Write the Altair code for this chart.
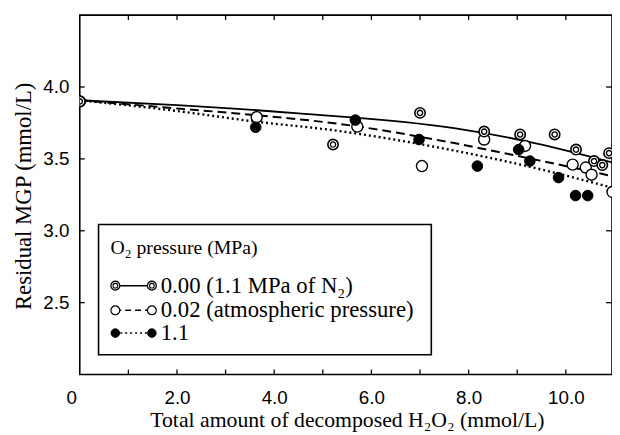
import altair as alt
import pandas as pd

# ---------------- data ----------------
series = ["0.00 (1.1 MPa of N\u2082)", "0.02 (atmospheric pressure)", "1.1"]

# measured points
x_n2 = [0.0, 5.21, 7.00, 8.32, 9.06, 9.77, 10.21, 10.58, 10.75, 10.89]
y_n2 = [3.90, 3.60, 3.82, 3.69, 3.67, 3.67, 3.565, 3.485, 3.457, 3.54]
x_atm = [0.0, 3.64, 5.71, 7.04, 8.32, 9.16, 10.14, 10.41, 10.53, 10.96]
y_atm = [3.90, 3.79, 3.725, 3.45, 3.635, 3.59, 3.46, 3.44, 3.39, 3.27]
x_o2 = [0.0, 3.62, 5.67, 6.98, 8.18, 9.03, 9.26, 9.85, 10.20, 10.45]
y_o2 = [3.90, 3.72, 3.77, 3.635, 3.45, 3.565, 3.485, 3.37, 3.245, 3.245]

# fitted curves
cx_n2 = [0.0, 2.0, 4.5, 7.7, 9.2, 10.96]
cy_n2 = [3.908, 3.874, 3.817, 3.714, 3.622, 3.475]
cx_atm = [0.0, 2.0, 3.6, 5.3, 7.7, 9.2, 10.96]
cy_atm = [3.908, 3.851, 3.805, 3.745, 3.61, 3.507, 3.38]
cx_o2 = [0.0, 2.0, 3.6, 5.2, 7.7, 9.2, 10.96]
cy_o2 = [3.908, 3.833, 3.76, 3.70, 3.558, 3.45, 3.30]

x_label_values = [0, 2, 4, 6, 8, 10]
x_tick_values = [1, 2, 3, 4, 5, 6, 7, 8, 9, 10]
y_tick_values = [2.5, 3.0, 3.5, 4.0]
y_right_ticks = [2.5, 3.0, 4.0]

legend_title = "O\u2082 pressure (MPa)"
x_title = "Total amount of decomposed H\u2082O\u2082 (mmol/L)"
y_title = "Residual MGP (mmol/L)"

# ---------------- layout ----------------
W, H = 539, 364
SERIF = "Liberation Serif"
SANS = "Liberation Sans"

xs = alt.Scale(domain=[0, 10.95], nice=False, zero=False)
ys = alt.Scale(domain=[2.0, 4.5], nice=False, zero=False)

def pts(xv, yv):
    return pd.DataFrame({"x": xv, "y": yv})

xenc = alt.X("x:Q", scale=xs, axis=alt.Axis(
    values=x_label_values, labelExpr="datum.value == 0 ? '0' : format(datum.value, '.1f')",
    ticks=False, domain=False, grid=False, labelFont=SANS, labelFontSize=19, labelColor="black",
    labelPadding=14, labelOffset={"condition": {"test": "datum.value == 0", "value": -14}, "value": 0},
    title=x_title, titleFont=SERIF, titleFontSize=22, titleFontWeight="normal", titleColor="black",
    titleX=W / 2 + 1, titleY=46, titleBaseline="middle", titleAlign="center"))
yenc = alt.Y("y:Q", scale=ys, axis=alt.Axis(
    values=y_tick_values, format=".1f", ticks=False, domain=False, grid=False,
    labelFont=SANS, labelFontSize=19, labelColor="black", labelPadding=11,
    title=y_title, titleFont=SERIF, titleFontSize=23, titleFontWeight="normal", titleColor="black",
    titleX=-57, titleY=H / 2 + 1, titleBaseline="middle", titleAlign="center", titleAngle=-90))

xq = alt.X("x:Q", scale=xs)
yq = alt.Y("y:Q", scale=ys)

line_n2 = alt.Chart(pts(cx_n2, cy_n2)).mark_line(color="black", strokeWidth=1.8, interpolate="monotone", clip=True).encode(x=xenc, y=yenc)
line_atm = alt.Chart(pts(cx_atm, cy_atm)).mark_line(color="black", strokeWidth=2, strokeDash=[9, 5], interpolate="monotone", clip=True).encode(x=xq, y=yq)
line_o2 = alt.Chart(pts(cx_o2, cy_o2)).mark_line(color="black", strokeWidth=2.4, strokeDash=[2, 3], interpolate="monotone", clip=True).encode(x=xq, y=yq)

open_pts = alt.Chart(pts(x_atm, y_atm)).mark_point(shape="circle", filled=True, fill="white", stroke="black", strokeWidth=1.4, size=125, opacity=1, clip=True).encode(x=xq, y=yq)
fill_pts = alt.Chart(pts(x_o2, y_o2)).mark_point(shape="circle", filled=True, fill="black", stroke="black", strokeWidth=1, size=115, opacity=1, clip=True).encode(x=xq, y=yq)
dbl_outer = alt.Chart(pts(x_n2, y_n2)).mark_point(shape="circle", filled=True, fill="white", stroke="black", strokeWidth=1.6, size=110, opacity=1, clip=True).encode(x=xq, y=yq)
dbl_inner = alt.Chart(pts(x_n2, y_n2)).mark_point(shape="circle", filled=False, stroke="black", strokeWidth=1.4, size=28, opacity=1, clip=True).encode(x=xq, y=yq)

# inward ticks
tx = pd.DataFrame({"x": x_tick_values})
ty = pd.DataFrame({"y": y_tick_values})
tyr = pd.DataFrame({"y": y_right_ticks})
tick_bottom = alt.Chart(tx).mark_rule(color="black", strokeWidth=1.3).encode(x=xq, y=alt.value(H), y2=alt.value(H - 5))
tick_top = alt.Chart(tx).mark_rule(color="black", strokeWidth=1.3).encode(x=xq, y=alt.value(0), y2=alt.value(5))
tick_left = alt.Chart(ty).mark_rule(color="black", strokeWidth=1.3).encode(y=yq, x=alt.value(0), x2=alt.value(5))
tick_right = alt.Chart(tyr).mark_rule(color="black", strokeWidth=1.3).encode(y=yq, x=alt.value(W - 6), x2=alt.value(W))

# legend box
one = pd.DataFrame({"k": [0]})
lx0, lx1, ly0, ly1 = 19, 356, 212, 344
leg_box = alt.Chart(one).mark_rect(fill="white", stroke="black", strokeWidth=1.6).encode(
    x=alt.value(lx0), x2=alt.value(lx1), y=alt.value(ly0), y2=alt.value(ly1))
leg_title = alt.Chart(one).mark_text(align="left", baseline="middle", font=SERIF, fontSize=20, color="black").encode(
    x=alt.value(31), y=alt.value(236), text=alt.value(legend_title))

rows_y = [274, 299, 322]
sx0, sx1, tx0 = 36, 73, 82
leg_layers = []
dashes = [None, [6, 4], [2, 3]]
for i, (ry, lab) in enumerate(zip(rows_y, series)):
    kw = dict(color="black", strokeWidth=1.5)
    if dashes[i]:
        kw["strokeDash"] = dashes[i]
    leg_layers.append(alt.Chart(one).mark_rule(**kw).encode(x=alt.value(sx0), x2=alt.value(sx1), y=alt.value(ry)))
    for sx in (sx0, sx1):
        if i == 0:
            leg_layers.append(alt.Chart(one).mark_point(shape="circle", filled=True, fill="white", stroke="black", strokeWidth=1.3, size=80, opacity=1).encode(x=alt.value(sx), y=alt.value(ry)))
            leg_layers.append(alt.Chart(one).mark_point(shape="circle", filled=False, stroke="black", strokeWidth=1.1, size=22, opacity=1).encode(x=alt.value(sx), y=alt.value(ry)))
        elif i == 1:
            leg_layers.append(alt.Chart(one).mark_point(shape="circle", filled=True, fill="white", stroke="black", strokeWidth=1.2, size=80, opacity=1).encode(x=alt.value(sx), y=alt.value(ry)))
        else:
            leg_layers.append(alt.Chart(one).mark_point(shape="circle", filled=True, fill="black", stroke="black", strokeWidth=1, size=75, opacity=1).encode(x=alt.value(sx), y=alt.value(ry)))
    leg_layers.append(alt.Chart(one).mark_text(align="left", baseline="middle", font=SERIF, fontSize=23, color="black").encode(
        x=alt.value(tx0), y=alt.value(ry), text=alt.value(lab)))

chart = alt.layer(
    line_n2, line_atm, line_o2,
    open_pts, fill_pts, dbl_outer, dbl_inner,
    tick_bottom, tick_top, tick_left, tick_right,
    leg_box, leg_title, *leg_layers,
).properties(
    width=W, height=H,
    autosize=alt.AutoSizeParams(type="none"),
    padding={"left": 72.7, "top": 4.5, "right": 0, "bottom": 58},
    background="white",
).configure_view(stroke="black", strokeWidth=1.6)

chart.save("out.html", embed_options={"renderer": "svg", "actions": False})
